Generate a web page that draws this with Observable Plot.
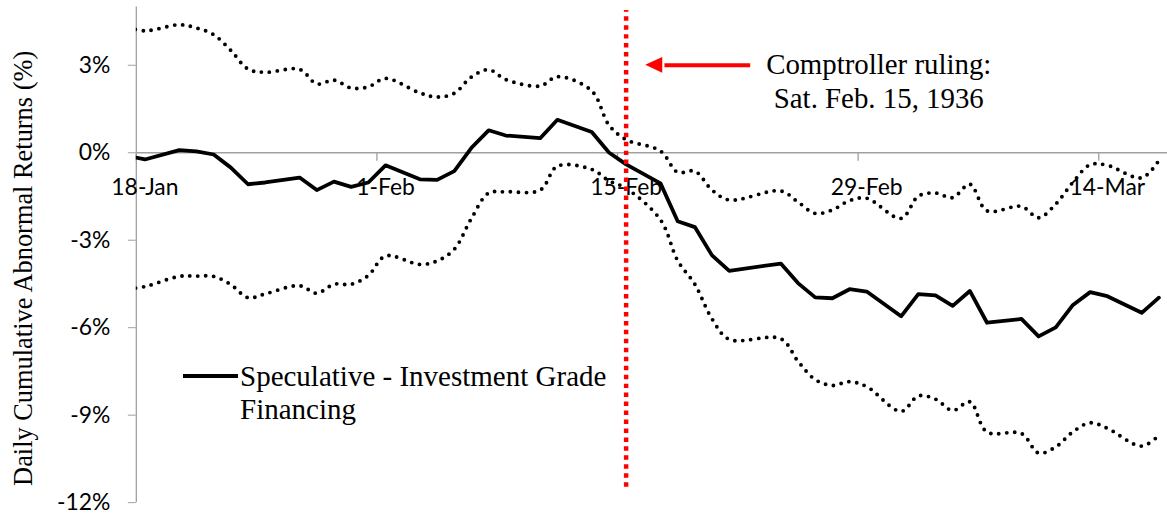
<!DOCTYPE html>
<html>
<head>
<meta charset="utf-8">
<script src="https://cdn.jsdelivr.net/npm/d3@7"></script>
<script src="https://cdn.jsdelivr.net/npm/@observablehq/plot@0.6"></script>
<style>
  html, body { margin: 0; padding: 0; background: #fff; overflow: hidden; }
  #wrap { position: relative; width: 1167px; height: 515px; overflow: hidden; }
  #legend { position: absolute; left: 0; top: 0; pointer-events: none; }
  g[aria-label="y-axis tick"] { stroke: #a0a0a0; }
  g[aria-label="y-axis"] .tick line { stroke: #a0a0a0; }
</style>
</head>
<body>
<div id="wrap">
  <div id="chart"></div>
  <svg id="legend" width="1167" height="515"></svg>
</div>
<script>
// ---- data (trading days, 1936) ----
const dates = [
  "1936-01-17","1936-01-18","1936-01-20","1936-01-21","1936-01-22","1936-01-23","1936-01-24","1936-01-25",
  "1936-01-27","1936-01-28","1936-01-29","1936-01-30","1936-01-31","1936-02-01",
  "1936-02-03","1936-02-04","1936-02-05","1936-02-06","1936-02-07","1936-02-08",
  "1936-02-10","1936-02-11","1936-02-13","1936-02-14","1936-02-15",
  "1936-02-17","1936-02-18","1936-02-19","1936-02-20","1936-02-21",
  "1936-02-24","1936-02-25","1936-02-26","1936-02-27","1936-02-28","1936-02-29",
  "1936-03-02","1936-03-03","1936-03-04","1936-03-05","1936-03-06","1936-03-07",
  "1936-03-09","1936-03-10","1936-03-11","1936-03-12","1936-03-13","1936-03-14",
  "1936-03-16","1936-03-17"
];
const spread = [
  -0.11,-0.23,0.09,0.05,-0.06,-0.51,-1.08,-1.02,
  -0.85,-1.28,-0.99,-1.17,-1.02,-0.43,
  -0.91,-0.93,-0.63,0.17,0.77,0.59,
  0.50,1.13,0.71,0.01,-0.40,
  -1.05,-2.35,-2.55,-3.52,-4.05,
  -3.80,-4.47,-4.96,-4.99,-4.68,-4.76,
  -5.61,-4.85,-4.89,-5.25,-4.74,-5.83,
  -5.70,-6.30,-5.99,-5.22,-4.78,-4.92,
  -5.49,-4.97
];
const upper = [
  4.30,4.18,4.39,4.28,4.05,3.51,2.87,2.76,
  2.86,2.36,2.49,2.22,2.26,2.55,
  2.05,1.91,2.04,2.60,2.85,2.51,
  2.29,2.61,2.12,0.95,0.45,
  0.06,-0.67,-0.63,-1.28,-1.62,
  -1.31,-1.69,-2.08,-1.96,-1.64,-1.56,
  -2.25,-1.49,-1.38,-1.54,-1.08,-1.99,
  -1.84,-2.23,-1.76,-1.01,-0.41,-0.43,
  -0.86,-0.26
];
const lower = [
  -4.67,-4.59,-4.24,-4.23,-4.24,-4.52,-4.97,-4.84,
  -4.56,-4.82,-4.51,-4.51,-4.21,-3.54,
  -3.83,-3.71,-3.31,-2.25,-1.38,-1.34,
  -1.28,-0.46,-0.57,-0.96,-1.22,
  -2.30,-3.70,-4.51,-5.70,-6.40,
  -6.38,-7.15,-7.78,-7.98,-7.85,-8.02,
  -8.87,-8.34,-8.45,-8.84,-8.54,-9.58,
  -9.63,-10.30,-10.09,-9.57,-9.26,-9.45,
  -10.06,-9.69
];
const xTickDates = ["1936-01-18","1936-02-01","1936-02-15","1936-02-29","1936-03-14"];
const xTickLabels = ["18-Jan","1-Feb","15-Feb","29-Feb","14-Mar"];
const yTicks = [-12,-9,-6,-3,0,3];
const yTitle = "Daily Cumulative Abnormal Returns (%)";
const legendLines = ["Speculative - Investment Grade", "Financing"];
const eventDate = "1936-02-15";
const eventText = "Comptroller ruling:\nSat. Feb. 15, 1936";
// annotation placement (in days after 18-Jan 00:00, and % on the y axis)
const arrowTail = 35.72, arrowHeadBase = 30.63, arrowTip = 29.64, arrowY = 3, arrowHalf = 0.27;
const eventTextX = 43.2, eventTextY = 2.5;
const eventRuleY = [-11.47, 4.88];

// ---- helpers ----
const noon = s => new Date(s + "T12:00:00Z");
const midnight = s => new Date(s + "T00:00:00Z");
const start = midnight("1936-01-18");
const dayToDate = d => new Date(+start + d * 864e5);
const rows = dates.map((d, i) => ({date: noon(d), spread: spread[i], upper: upper[i], lower: lower[i]}));
const xTicks = xTickDates.map((d, i) => ({tick: midnight(d), mid: noon(d), label: xTickLabels[i]}));

const gray = "#a0a0a0";
const serif = "Liberation Serif, Times New Roman, serif";

const chart = Plot.plot({
  width: 1172,
  height: 515,
  marginLeft: 136.4,
  marginRight: 0,
  marginTop: 6.5,
  marginBottom: 10.7,
  style: {fontFamily: "Lato, sans-serif", fontSize: "23px", background: "white", color: "#000", overflow: "visible"},
  x: {type: "utc", domain: [start, midnight("1936-03-18")], axis: null},
  y: {domain: [-12, 5], ticks: yTicks, tickFormat: d => d + "%", tickSize: 8, tickPadding: 18, label: null},
  marks: [
    Plot.ruleX([start], {stroke: gray, strokeWidth: 1.3}),
    Plot.ruleY([0], {stroke: gray, strokeWidth: 1.3}),
    Plot.ruleX(xTicks, {x: "tick", y1: 0, y2: -0.29, stroke: gray, strokeWidth: 1.3}),
    Plot.text(xTicks, {x: "mid", y: () => 0, text: "label", dy: 35, fontSize: 23, fill: "#000"}),
    Plot.text([yTitle], {frameAnchor: "left", textAnchor: "middle", rotate: -90, dx: -113.2, dy: 13.6, fontFamily: serif, fontSize: 26.5, fill: "#000"}),
    Plot.line(rows, {x: "date", y: "upper", stroke: "#000", strokeWidth: 3.9, strokeDasharray: "0,8", strokeLinecap: "round", curve: "catmull-rom", clip: true}),
    Plot.line(rows, {x: "date", y: "lower", stroke: "#000", strokeWidth: 3.9, strokeDasharray: "0,8", strokeLinecap: "round", curve: "catmull-rom", clip: true}),
    Plot.line(rows, {x: "date", y: "spread", stroke: "#000", strokeWidth: 3.8, strokeLinejoin: "round", clip: true}),
    Plot.ruleX([noon(eventDate)], {y1: eventRuleY[0], y2: eventRuleY[1], stroke: "#ff0000", strokeWidth: 4.5, strokeDasharray: "4.5,4.5"}),
    Plot.link([{a: dayToDate(arrowTail), b: dayToDate(arrowHeadBase + 0.1)}], {x1: "a", x2: "b", y1: () => arrowY, y2: () => arrowY, stroke: "#ff0000", strokeWidth: 4}),
    Plot.areaY([
      {x: dayToDate(arrowTip), y1: arrowY, y2: arrowY},
      {x: dayToDate(arrowHeadBase), y1: arrowY - arrowHalf, y2: arrowY + arrowHalf}
    ], {x: "x", y1: "y1", y2: "y2", fill: "#ff0000", curve: "linear"}),
    Plot.text([eventText], {x: () => dayToDate(eventTextX), y: () => eventTextY, fontFamily: serif, fontSize: 29, lineHeight: 1.17, fill: "#000"})
  ]
});
document.getElementById("chart").appendChild(chart);

// ---- legend overlay ----
const lg = d3.select("#legend");
lg.append("line").attr("x1", 183).attr("x2", 238).attr("y1", 376).attr("y2", 376)
  .attr("stroke", "#000").attr("stroke-width", 3.8);
lg.selectAll("text.l").data(legendLines).join("text")
  .attr("class", "l")
  .attr("x", 240).attr("y", (d, i) => 386 + i * 32.5)
  .attr("font-family", serif).attr("font-size", 29).attr("fill", "#000")
  .text(d => d);
</script>
</body>
</html>
